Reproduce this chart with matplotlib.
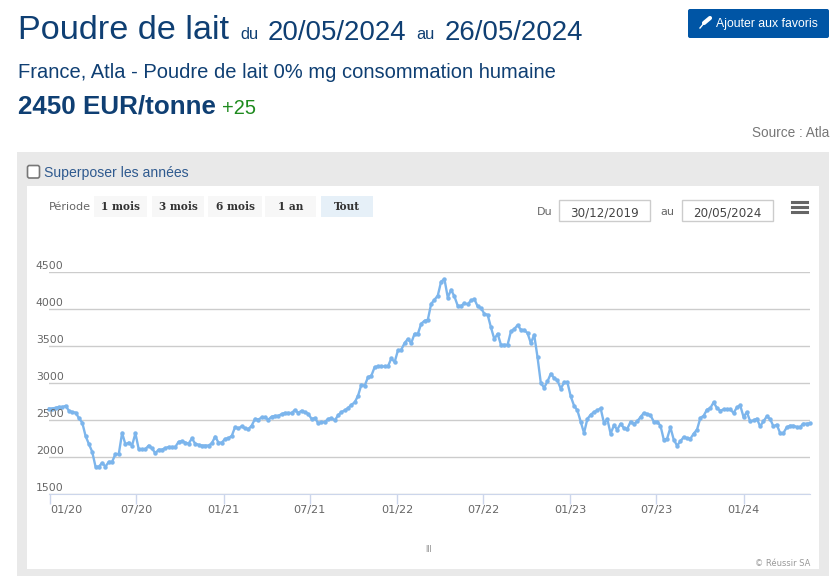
import matplotlib
matplotlib.use('Agg')
import matplotlib.pyplot as plt
from matplotlib.patches import Rectangle, FancyBboxPatch
import pandas as pd

# weekly quotation, EUR/tonne
prices = [
    2650, 2650, 2660, 2670, 2670, 2685, 2620, 2600, 2595, 2520,
    2460, 2280, 2170, 2065, 1865, 1865, 1915, 1865, 1930, 1930,
    2035, 2035, 2320, 2165, 2190, 2150, 2315, 2100, 2100, 2100,
    2150, 2110, 2045, 2095, 2095, 2115, 2130, 2130, 2130, 2200,
    2210, 2190, 2175, 2245, 2175, 2160, 2150, 2150, 2150, 2180,
    2270, 2190, 2190, 2240, 2250, 2280, 2400, 2380, 2410, 2380,
    2370, 2420, 2510, 2500, 2530, 2530, 2500, 2540, 2550, 2550,
    2575, 2590, 2590, 2590, 2630, 2590, 2620, 2598, 2580, 2510,
    2520, 2454, 2463, 2468, 2508, 2520, 2490, 2558, 2602, 2625,
    2656, 2700, 2733, 2823, 2971, 2958, 3075, 3093, 3210, 3219,
    3219, 3219, 3219, 3327, 3277, 3435, 3444, 3534, 3590, 3534,
    3660, 3660, 3795, 3835, 3850, 4065, 4119, 4177, 4366, 4398,
    4150, 4254, 4164, 4038, 4038, 4070, 4060, 4110, 4128, 4029,
    4006, 3930, 3916, 3745, 3588, 3660, 3511, 3511, 3511, 3691,
    3723, 3777, 3714, 3710, 3669, 3534, 3646, 3345, 2994, 2931,
    3016, 3120, 3061, 3030, 2917, 3003, 3003, 2814, 2688, 2625,
    2472, 2319, 2508, 2566, 2602, 2625, 2652, 2454, 2508, 2310,
    2422, 2364, 2445, 2386, 2373, 2472, 2440, 2476, 2535, 2589,
    2575, 2557, 2472, 2472, 2418, 2229, 2242, 2395, 2229, 2148,
    2206, 2265, 2247, 2242, 2310, 2364, 2521, 2553, 2634, 2656,
    2733, 2656, 2620, 2638, 2638, 2638, 2589, 2665, 2692, 2535,
    2602, 2476, 2490, 2512, 2409, 2476, 2544, 2508, 2409, 2431,
    2319, 2319, 2395, 2418, 2418, 2400, 2400, 2445, 2445, 2450,
]
dates = pd.date_range('2019-12-30', periods=len(prices), freq='7D')

tick_dates = pd.to_datetime(['2020-01-01', '2020-07-01', '2021-01-01', '2021-07-01', '2022-01-01',
                             '2022-07-01', '2023-01-01', '2023-07-01', '2024-01-01'])
tick_labels = ['01/20', '07/20', '01/21', '07/21', '01/22', '07/22', '01/23', '07/23', '01/24']
y_ticks = [1500, 2000, 2500, 3000, 3500, 4000, 4500]

W, H = 834, 576
sans = 'Liberation Sans'
navy = '#0f3f73'

fig = plt.figure(figsize=(W / 100, H / 100), dpi=100, facecolor='white')

# page furniture, drawn in pixel coordinates
page = fig.add_axes([0, 0, 1, 1])
page.set_xlim(0, W)
page.set_ylim(H, 0)
page.axis('off')


def box(x0, y0, x1, y1, fc, ec='none', lw=0, z=1):
    page.add_patch(Rectangle((x0, y0), x1 - x0, y1 - y0, fc=fc, ec=ec, lw=lw, zorder=z))


def label(x, y, s, size, color, ha='left', weight='normal', family=sans):
    page.text(x, y, s, fontsize=size, color=color, ha=ha, va='center_baseline',
              fontweight=weight, family=family, zorder=5)


label(18, 27, 'Poudre de lait', 24.7, navy)
label(240, 33, 'du', 11.8, navy)
label(268, 30, '20/05/2024', 19.9, navy)
label(416, 33, 'au', 11.8, navy)
label(445, 30, '26/05/2024', 19.9, navy)
label(18, 71, 'France, Atla - Poudre de lait 0% mg consommation humaine', 14.47, navy)
label(18, 104, '2450 EUR/tonne', 18.7, navy, weight='bold')
label(222, 106, '+25', 14.4, '#1e8a1e')
label(829, 131.5, 'Source : Atla', 9.8, '#777777', ha='right')

# favourites button
page.add_patch(FancyBboxPatch((688, 9), 141, 29, boxstyle='round,pad=0,rounding_size=2',
                              fc='#0055a5', ec='none', zorder=2))
page.plot([700, 705], [28, 22], color='white', lw=1, zorder=5)
page.plot([704, 710], [23, 18], color='white', lw=3, zorder=5, solid_capstyle='round')
label(716, 23, 'Ajouter aux favoris', 8.8, 'white')

# chart panel
box(17, 152, 829, 576, '#e9e9e9')
box(27, 186, 819, 569, 'white', z=2)
page.add_patch(FancyBboxPatch((27.5, 165.5), 12, 12.5, boxstyle='round,pad=0,rounding_size=2',
                              fc='white', ec='#777777', lw=1.2, zorder=3))
label(44, 171.5, 'Superposer les années', 10.1, '#2f5a8f')

# range selector
label(49, 206, 'Période', 8.1, '#666666', family='DejaVu Sans')
range_names = ['1 mois', '3 mois', '6 mois', '1 an', 'Tout']
range_boxes = [(94, 147), (152, 204), (208, 262), (265, 316), (321, 373)]
for name, (x0, x1) in zip(range_names, range_boxes):
    active = name == 'Tout'
    box(x0, 196, x1, 217, '#e6f0f8' if active else '#f7f7f7', z=3)
    label((x0 + x1) / 2, 206, name, 7.6, '#333333', ha='center', weight='bold', family='DejaVu Serif')

# date inputs
label(537, 211, 'Du', 8.0, '#666666', family='DejaVu Sans')
label(660, 211, 'au', 8.0, '#666666', family='DejaVu Sans')
for x0, x1, s in [(559, 650, '30/12/2019'), (682, 773, '20/05/2024')]:
    box(x0, 200, x1, 221, 'white', ec='#cccccc', lw=1, z=3)
    label((x0 + x1) / 2, 211, s, 8.6, '#444444', ha='center', family='DejaVu Sans')
for y in [201.5, 206.5, 211.5]:
    page.plot([792, 807], [y, y], color='#666666', lw=2.2, zorder=5)

label(429, 548, 'III', 5.5, '#888888', ha='center', family='DejaVu Sans')
label(810, 562, '© Réussir SA', 6.0, '#999999', ha='right', family='DejaVu Sans')

# price chart
ax = fig.add_axes([49 / W, 1 - 493.6 / H, (810 - 49) / W, (493.6 - 271.6) / H])
ax.patch.set_alpha(0)
ax.plot(dates, prices, color='#7cb5ec', lw=1.7, marker='o', ms=3.2, mew=0, clip_on=False, zorder=3)
ax.set_xlim(dates[0], dates[-1])
ax.set_ylim(1500, 4500)
ax.set_yticks(y_ticks)
ax.set_yticklabels([])
ax.grid(axis='y', color='#cccccc', lw=1)
ax.set_axisbelow(True)
ax.tick_params(axis='y', length=0)
ax.set_xticks(tick_dates)
ax.set_xticklabels(tick_labels, fontsize=8.1, color='#666666', family='DejaVu Sans')
ax.tick_params(axis='x', length=7, width=1, color='#ccd6eb', pad=1)
ax.get_xticklabels()[0].set_ha('left')
for side in ['top', 'left', 'right']:
    ax.spines[side].set_visible(False)
ax.spines['bottom'].set_color('#ccd6eb')

# value labels sit above the grid lines and start left of the plot
for v in y_ticks:
    ax.annotate(str(v), (0, v), xycoords=('axes fraction', 'data'), xytext=(-9.5, 0.4),
                textcoords='offset points', fontsize=7.8, color='#666666', ha='left', va='bottom',
                family='DejaVu Sans', annotation_clip=False)

fig.savefig('out.png', dpi=100)
